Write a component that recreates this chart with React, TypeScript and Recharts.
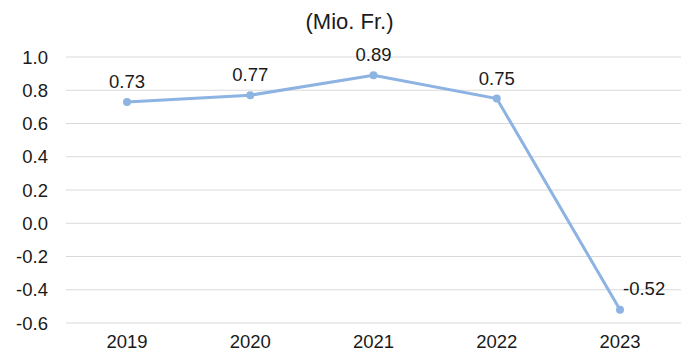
import { CartesianGrid, LabelList, Line, LineChart, XAxis, YAxis } from "recharts";

const years = ["2019", "2020", "2021", "2022", "2023"];
const values = [0.73, 0.77, 0.89, 0.75, -0.52];
const yTicks = [-0.6, -0.4, -0.2, 0, 0.2, 0.4, 0.6, 0.8, 1.0];

const FONT = "'Liberation Sans', Arial, sans-serif";
const TICK = { fontSize: 18.5, fill: "#1a1a1a", fontFamily: FONT };
const LINE = "#8db3e2";

const rows = years.map((year, i) => ({ year, value: values[i] }));

function PointLabel(props: any) {
  const { x, y, value } = props;
  const neg = value < 0;
  return (
    <text
      x={neg ? x + 3 : x}
      y={neg ? y - 15 : y - 14}
      textAnchor={neg ? "start" : "middle"}
      fontSize={18.5}
      fontFamily={FONT}
      fill="#1a1a1a"
    >
      {value.toFixed(2)}
    </text>
  );
}

export default function App() {
  return (
    <div style={{ position: "absolute", left: 0, top: 0, width: 685, height: 351, background: "#fff" }}>
      <div
        style={{
          position: "absolute",
          top: 9,
          left: 7,
          width: 685,
          textAlign: "center",
          fontSize: 22,
          fontFamily: FONT,
          color: "#1a1a1a",
        }}
      >
        (Mio. Fr.)
      </div>
      <LineChart width={685} height={351} data={rows} margin={{ top: 57, right: 4, left: 0, bottom: 0 }}>
        <CartesianGrid stroke="#d9d9d9" vertical={false} />
        <XAxis
          dataKey="year"
          tick={TICK}
          tickLine={false}
          axisLine={false}
          height={28}
          tickMargin={6}
          padding={{ left: 61, right: 61 }}
        />
        <YAxis
          domain={[-0.6, 1.0]}
          ticks={yTicks}
          tickFormatter={(v: number) => v.toFixed(1)}
          tick={TICK}
          tickLine={false}
          axisLine={false}
          width={66}
          tickMargin={12}
          interval={0}
        />
        <Line
          type="linear"
          dataKey="value"
          stroke={LINE}
          strokeWidth={3}
          dot={{ r: 4, fill: LINE, stroke: LINE, strokeWidth: 0 }}
          isAnimationActive={false}
        >
          <LabelList dataKey="value" content={PointLabel} />
        </Line>
      </LineChart>
    </div>
  );
}
